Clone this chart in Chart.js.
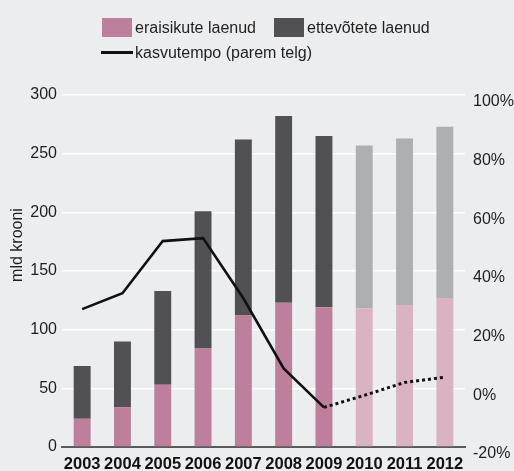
<!DOCTYPE html>
<html>
<head>
<meta charset="utf-8">
<script src="https://cdn.jsdelivr.net/npm/chart.js@4.4.1/dist/chart.umd.min.js"></script>
<style>
  html, body { margin:0; padding:0; background:#ecedef; }
  body { width:514px; height:471px; position:relative; overflow:hidden; font-family:"Liberation Sans", Arial, sans-serif; color:#1f1f1f; }
  #wrap { position:absolute; left:0; top:0; width:514px; height:471px; }
  .sw { position:absolute; width:30px; height:19px; }
  .lt { position:absolute; font-size:16px; line-height:19px; white-space:nowrap; }
  .ln { position:absolute; height:3px; background:#111; }
</style>
</head>
<body>
<div id="wrap"><canvas id="c" width="514" height="471"></canvas></div>
<div class="sw" style="left:102px;top:18px;background:#bd7f9b"></div>
<div class="lt" style="left:135px;top:18px">eraisikute laenud</div>
<div class="sw" style="left:274px;top:18px;background:#515054"></div>
<div class="lt" style="left:307px;top:18px">ettevõtete laenud</div>
<div class="ln" style="left:101px;top:51px;width:32px"></div>
<div class="lt" style="left:135px;top:43px">kasvutempo (parem telg)</div>
<script>
const years = ['2003','2004','2005','2006','2007','2008','2009','2010','2011','2012'];
const householdLoans = [24, 34, 53, 84, 112, 123, 119, 118, 121, 127];
const corporateLoans = [45, 56, 80, 117, 150, 159, 146, 139, 142, 146];
const growthRate = [27, 32.4, 50.2, 51.2, 30.7, 6.8, -6.5, -2.4, 2.0, 3.8];
const forecastFrom = 7;   // 2010+ are forecasts (lighter bars)
const dottedFrom = 6;     // growth line dotted from 2009 onward
const leftTicks = [0, 50, 100, 150, 200, 250, 300];
const rightTicks = [-20, 0, 20, 40, 60, 80, 100];

const pink = '#bd7f9b', pinkLight = '#d9b2c4';
const dark = '#515054', darkLight = '#aeafb2';
const FONT = '"Liberation Sans", Arial, sans-serif';

const yTitle = {
  id: 'yTitle',
  afterDraw(chart) {
    const ctx = chart.ctx;
    ctx.save();
    ctx.translate(18, 245);
    ctx.rotate(-Math.PI / 2);
    ctx.font = '16px ' + FONT;
    ctx.fillStyle = '#1f1f1f';
    ctx.textAlign = 'center';
    ctx.textBaseline = 'middle';
    ctx.fillText('mld krooni', 0, 0);
    ctx.restore();
  }
};

new Chart(document.getElementById('c'), {
  data: {
    labels: years,
    datasets: [
      {
        type: 'line', label: 'kasvutempo (parem telg)', data: growthRate, yAxisID: 'y1', order: 0,
        borderColor: '#111', borderWidth: 2.6, pointRadius: 0, tension: 0, fill: false,
        borderCapStyle: 'butt', borderJoinStyle: 'miter',
        segment: { borderDash: c => c.p0DataIndex >= dottedFrom ? [3, 3] : undefined,
                   borderWidth: c => c.p0DataIndex >= dottedFrom ? 3 : 2.6 }
      },
      {
        type: 'bar', label: 'eraisikute laenud', data: householdLoans, yAxisID: 'y', order: 1, stack: 's',
        backgroundColor: years.map((_, i) => i >= forecastFrom ? pinkLight : pink),
        barPercentage: 0.42, categoryPercentage: 1
      },
      {
        type: 'bar', label: 'ettevõtete laenud', data: corporateLoans, yAxisID: 'y', order: 1, stack: 's',
        backgroundColor: years.map((_, i) => i >= forecastFrom ? darkLight : dark),
        barPercentage: 0.42, categoryPercentage: 1
      }
    ]
  },
  options: {
    responsive: false, animation: false,
    layout: { padding: { top: 95, left: 0, right: 0, bottom: 0 } },
    plugins: { legend: { display: false }, tooltip: { enabled: false } },
    scales: {
      x: {
        stacked: true,
        grid: { display: false, drawTicks: false },
        border: { display: true, color: '#5a5a5c', width: 2 },
        ticks: { color: '#111', font: { family: FONT, size: 16.5, weight: 'bold' }, padding: 8, maxRotation: 0, autoSkip: false },
        afterFit(s) { s.height = 24; }
      },
      y: {
        stacked: true, position: 'left', min: 0, max: 300,
        afterBuildTicks(s) { s.ticks = leftTicks.map(v => ({ value: v })); },
        grid: { color: c => c.tick && c.tick.value === 0 ? 'rgba(0,0,0,0)' : '#ffffff', lineWidth: 1.5, drawTicks: false },
        border: { display: false },
        ticks: { color: '#1f1f1f', font: { family: FONT, size: 16 }, padding: 5 },
        afterFit(s) { s.width = 62; }
      },
      y1: {
        position: 'right', min: -20, max: 100,
        afterBuildTicks(s) { s.ticks = rightTicks.map(v => ({ value: v })); },
        grid: { display: false, drawTicks: false },
        border: { display: false },
        ticks: { color: '#1f1f1f', font: { family: FONT, size: 16 }, padding: 8, labelOffset: 7, callback: v => v + '%' },
        afterFit(s) { s.width = 49; }
      }
    }
  },
  plugins: [yTitle]
});
</script>
</body>
</html>
